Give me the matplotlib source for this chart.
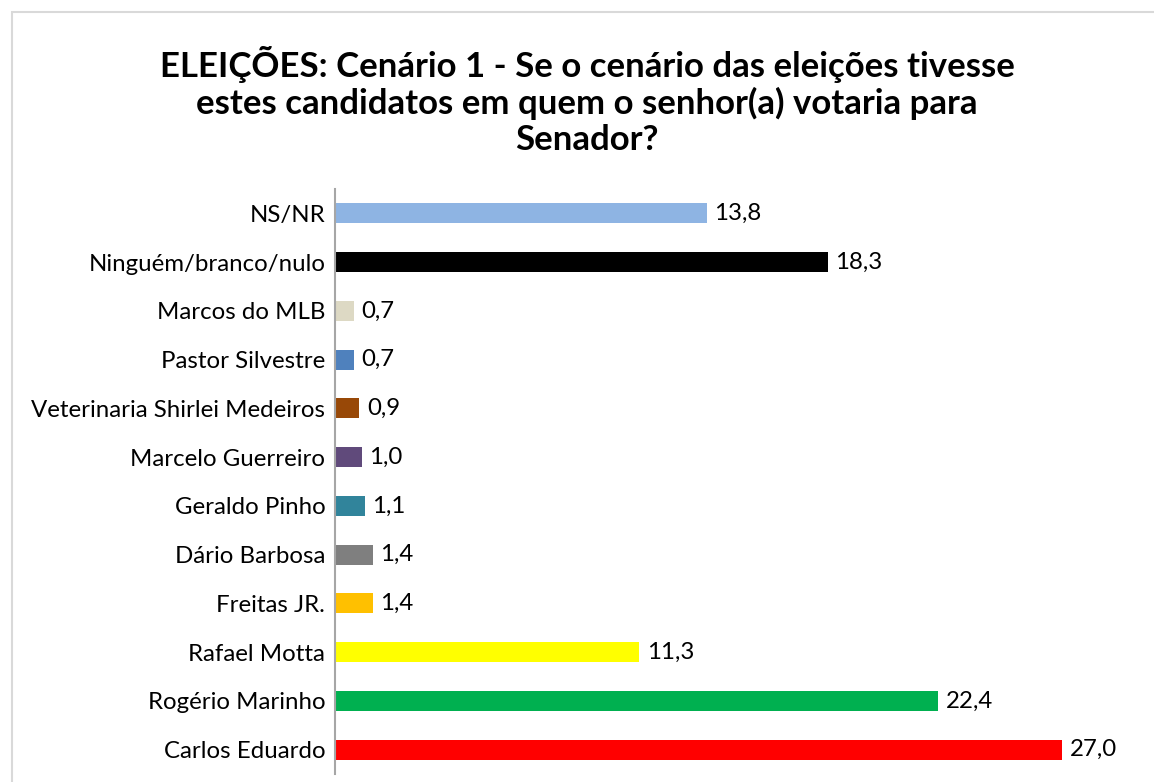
import matplotlib
matplotlib.use("Agg")
import matplotlib.pyplot as plt
from matplotlib.patches import Rectangle

categories = ["NS/NR", "Ninguém/branco/nulo", "Marcos do MLB", "Pastor Silvestre",
              "Veterinaria Shirlei Medeiros", "Marcelo Guerreiro", "Geraldo Pinho",
              "Dário Barbosa", "Freitas JR.", "Rafael Motta", "Rogério Marinho",
              "Carlos Eduardo"]
values = [13.8, 18.3, 0.7, 0.7, 0.9, 1.0, 1.1, 1.4, 1.4, 11.3, 22.4, 27.0]
colors = ["#8EB4E3", "#000000", "#DDD9C4", "#4F81BD", "#984807", "#604A7B",
          "#31849B", "#7F7F7F", "#FFC000", "#FFFF00", "#00B050", "#FF0000"]
value_labels = [f"{v:.1f}".replace(".", ",") for v in values]
title = ("ELEIÇÕES: Cenário 1 - Se o cenário das eleições tivesse\n"
         "estes candidatos em quem o senhor(a) votaria para\nSenador?")

plt.rcParams['font.family'] = ['Lato', 'DejaVu Sans']

W, H = 1154, 782
fig = plt.figure(figsize=(W / 100, H / 100), dpi=100)

# chart border (light gray)
fig.add_artist(Rectangle((12 / W, -0.1), 1.2, (H - 12) / H + 0.1, transform=fig.transFigure,
                         fill=False, edgecolor="#D9D9D9", linewidth=1.5))

left, right = 335 / W, 1130 / W
bottom, top = 8 / H, (H - 189) / H
ax = fig.add_axes([left, bottom, right - left, top - bottom])

n = len(categories)
ypos = list(range(n))[::-1]
ax.barh(ypos, values, height=0.41, color=colors)
xmax = (1130 - 335) / 26.93
ax.set_xlim(0, xmax)
ax.set_ylim(-0.5, n - 0.5)

for y, v, lab in zip(ypos, values, value_labels):
    ax.text(v + 0.28, y, lab, va="center", ha="left", fontsize=17.3, color="#000000")

ax.set_yticks(ypos)
ax.set_yticklabels(categories, fontsize=17.3)
ax.tick_params(axis="y", length=0, pad=7)
ax.set_xticks([])
for s in ["top", "right", "bottom"]:
    ax.spines[s].set_visible(False)
ax.spines["left"].set_color("#A6A6A6")
ax.spines["left"].set_linewidth(1.5)

fig.text(587 / W, 1 - 46 / H, title, ha="center", va="top", fontsize=25,
         fontweight="bold", linespacing=1.15)

fig.savefig("out.png", dpi=100, facecolor="white")
